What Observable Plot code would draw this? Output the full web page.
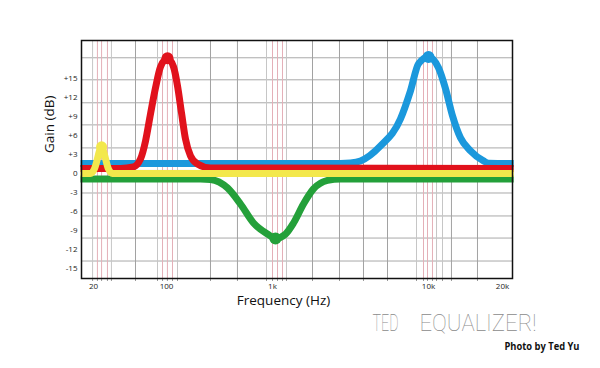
<!DOCTYPE html>
<html><head><meta charset="utf-8">
<script src="https://cdn.jsdelivr.net/npm/d3@7"></script>
<script src="https://cdn.jsdelivr.net/npm/@observablehq/plot@0.6"></script>
<style>body{margin:0;background:#fff}#chart{width:600px;height:368px}</style>
</head><body><div id="chart"></div>
<script>
// ---- tick labels ----
const xTicks = [20, 100, 1000, 10000, 20000];
const xTickLabels = ["20", "100", "1k", "10k", "20k"];
const yTicks = [-15, -12, -9, -6, -3, 0, 3, 6, 9, 12, 15];
const yTickLabels = ["-15", "-12", "-9", "-6", "-3", "0", "+3", "+6", "+9", "+12", "+15"];

// ---- grid lines (as drawn in the picture) ----
const gridGainDb = [18.27, 14.79, 11.16, 7.67, 4.03, 0.47, -3.09, -6.72, -10.21, -13.84];
const gridMainHz = [50.5, 260, 467, 1805, 2688, 3831, 5460, 12400, 15820];
const gridLightHz = [19.6, 29.7, 82, 127, 878, 1229, 8377, 10780, 11400];
const gridPinkHz = [21.8, 23.9, 27.2, 91.6, 102, 113.9, 1000, 1077, 1159, 9290, 9854, 10380];

// ---- EQ band curves ----
const blueHz = [15, 2729, 3162, 3666, 4924, 6614, 7665, 8628, 10000, 10980, 11730, 12520, 13490, 14820, 16740, 17540, 22200];
const blueDb = [1.58, 1.58, 1.66, 1.98, 4.35, 8.62, 13.05, 17.33, 18.4, 16.69, 13.37, 9.10, 5.62, 3.56, 1.98, 1.62, 1.58];

const redHz = [15, 36.3, 48.3, 56.4, 63.0, 70.3, 78.5, 87.7, 102.2, 116.4, 127, 138.5, 151, 168.4, 196, 260, 22200];
const redDb = [0.79, 0.79, 1.03, 2.29, 5.14, 9.41, 13.53, 16.85, 18.2, 16.85, 13.84, 9.57, 5.46, 2.77, 1.50, 0.87, 0.79];

const greenHz = [15, 209, 260, 376, 499, 662, 897, 1045, 1212, 1364, 1580, 1831, 2252, 2729, 22200];
const greenDb = [-0.87, -0.87, -0.95, -2.29, -4.83, -7.83, -9.57, -10.27, -9.57, -7.83, -4.83, -2.45, -1.1, -0.87, -0.87];

const yellowHz = [15, 18.7, 20.4, 21.8, 22.8, 23.9, 24.9, 26.1, 27.8, 30.4, 22200];
const yellowDb = [0, 0, 0.71, 2.29, 3.56, 4.2, 3.56, 2.29, 0.71, 0, 0];

// peak markers
const peakHz = [10000, 102.2, 1045, 23.9];
const peakDb = [18.4, 18.2, -10.27, 4.2];

const colors = {blue: "#1b98dc", red: "#e1121c", green: "#24a03a", yellow: "#f3e84c"};

const table = (f, g) => f.map((v, i) => ({hz: v, db: g[i]}));
const blue = table(blueHz, blueDb);
const red = table(redHz, redDb);
const green = table(greenHz, greenDb);
const yellow = table(yellowHz, yellowDb);
const peaks = table(peakHz, peakDb);

const allGrid = [...gridMainHz, ...gridLightHz, ...gridPinkHz];
const lineOpts = {x: "hz", y: "db", strokeWidth: 7, curve: "monotone-x", strokeLinecap: "butt", strokeLinejoin: "round"};

const chart = Plot.plot({
  width: 600, height: 368,
  marginLeft: 81, marginRight: 88, marginTop: 40, marginBottom: 90,
  style: {fontFamily: "'Open Sans', sans-serif", background: "white", color: "#222"},
  x: {type: "log", domain: [15.35, 20, 100, 1000, 10000, 20000, 21960], range: [81, 93, 166, 272, 428, 502, 512], axis: null},
  y: {domain: [-16.6, 21], axis: null},
  marks: [
    Plot.ruleY(gridGainDb, {stroke: "#a9a9a9", strokeWidth: 1}),
    Plot.ruleX(gridLightHz, {stroke: "#c6c6c6", strokeWidth: 1}),
    Plot.ruleX(gridPinkHz, {stroke: "#e4b0b8", strokeWidth: 1}),
    Plot.ruleX(gridMainHz, {stroke: "#a2a2a2", strokeWidth: 1}),
    Plot.axisX({ticks: allGrid, tickSize: 3, tickFormat: () => "", label: null, stroke: "#999"}),
    Plot.axisX({ticks: xTicks, tickSize: 0, tickPadding: 5, fontSize: 8, label: null,
      tickFormat: d => xTickLabels[xTicks.indexOf(d)]}),
    Plot.axisY({ticks: yTicks, tickSize: 0, tickPadding: 4, fontSize: 8, label: null,
      tickFormat: d => yTickLabels[yTicks.indexOf(d)]}),
    Plot.line(blue, {...lineOpts, stroke: colors.blue}),
    Plot.dot([peaks[0]], {x: "hz", y: "db", r: 6, fill: colors.blue}),
    Plot.line(green, {...lineOpts, stroke: colors.green}),
    Plot.dot([peaks[2]], {x: "hz", y: "db", r: 6, fill: colors.green}),
    Plot.line(red, {...lineOpts, stroke: colors.red}),
    Plot.dot([peaks[1]], {x: "hz", y: "db", r: 6, fill: colors.red}),
    Plot.line(yellow, {...lineOpts, stroke: colors.yellow}),
    Plot.dot([peaks[3]], {x: "hz", y: "db", r: 5.5, fill: colors.yellow}),
    Plot.frame({stroke: "#111", strokeWidth: 1.5}),
    Plot.text(["Gain (dB)"], {text: d => d, frameAnchor: "left", dx: -32, dy: -6.5, rotate: -90, fontSize: 13.5, fill: "#111"}),
    Plot.text(["Frequency (Hz)"], {text: d => d, frameAnchor: "bottom", dx: -13.5, dy: 26, fontSize: 13.5, fill: "#111"}),
    Plot.text(["TED"], {text: d => d, frameAnchor: "bottom-left", dx: 291, dy: 52.5, textAnchor: "start", fontSize: 24, fontWeight: 100, fontFamily: "Roboto", fill: "#8a8a8a", className: "ted"}),
    Plot.text(["EQUALIZER!"], {text: d => d, frameAnchor: "bottom-left", dx: 338, dy: 52.5, textAnchor: "start", fontSize: 24, fontWeight: 100, fontFamily: "Roboto", fill: "#8a8a8a", className: "eq"}),
    Plot.text(["Photo by Ted Yu"], {text: d => d, frameAnchor: "bottom-left", dx: 423, dy: 71, textAnchor: "start", fontSize: 11, fontWeight: "bold", fill: "#111", className: "photo"})
  ]
});
document.getElementById("chart").appendChild(chart);
d3.select(chart).selectAll(".ted text").attr("textLength", 26).attr("lengthAdjust", "spacingAndGlyphs");
d3.select(chart).selectAll(".eq text").attr("textLength", 117).attr("lengthAdjust", "spacingAndGlyphs");
d3.select(chart).selectAll(".photo text").attr("textLength", 75).attr("lengthAdjust", "spacingAndGlyphs");
</script>
</body></html>
